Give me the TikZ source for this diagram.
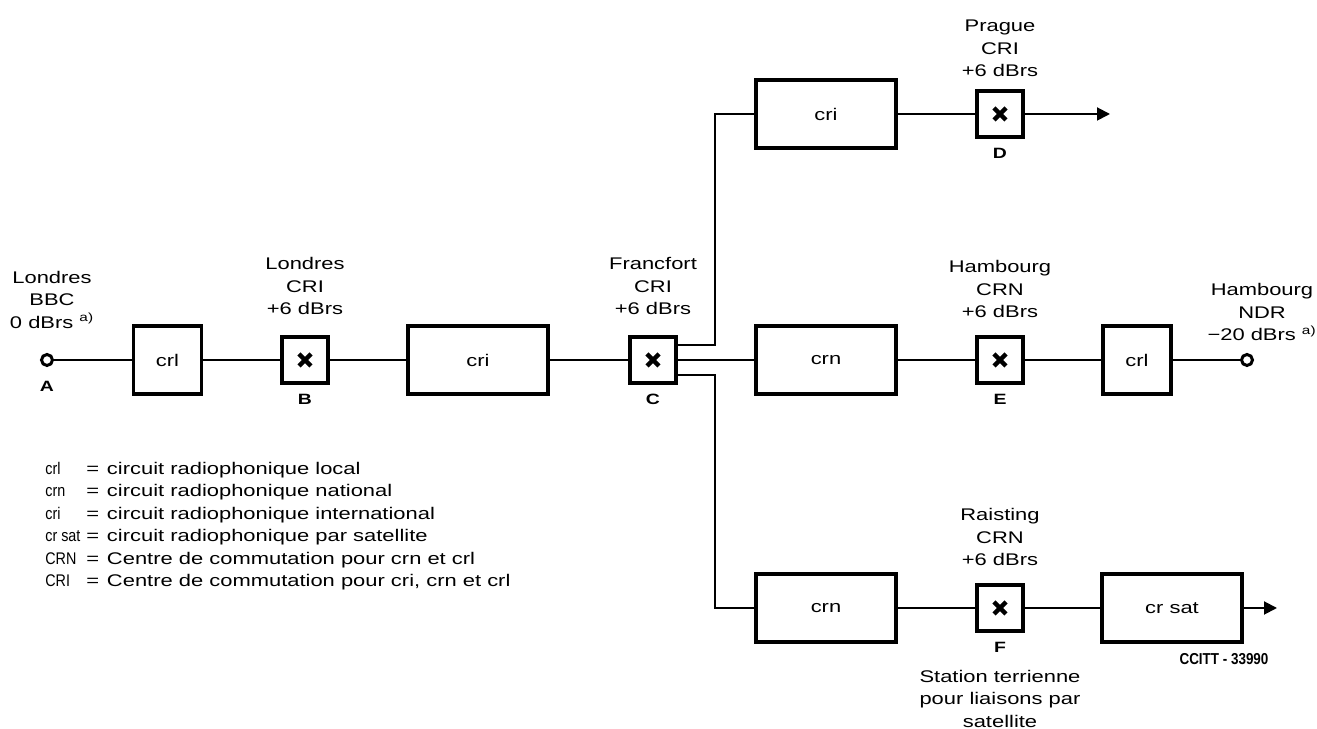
\documentclass[tikz,border=0pt]{standalone}
\usepackage{fontspec}
\setmainfont{Liberation Sans}[FakeStretch=1.3]
\newfontfamily\keyfont{Liberation Sans}[FakeStretch=0.85]
\usetikzlibrary{positioning,arrows.meta}

\tikzset{
  wire/.style={line width=1.1pt},
  circuit/.style={draw, line width=2.2pt, minimum width=2.8cm, minimum height=1.36cm},
  localbox/.style={circuit, minimum width=1.36cm},
  switchbox/.style={draw, line width=2.2pt, minimum size=0.92cm},
  terminal/.style={circle, draw, line width=1.7pt, minimum size=0.22cm, inner sep=0pt},
  place/.style={align=center, font=\fontsize{9.6}{12.8}\selectfont},
  letter/.style={font=\fontsize{8.5}{10}\selectfont\bfseries},
  tip/.style={-{Triangle[length=0.26cm,width=0.26cm]}},
}

\begin{document}
\begin{tikzpicture}[font=\fontsize{9.6}{12.8}\selectfont]
  \useasboundingbox (0,0) rectangle (26.34,14.58);

  % main row: Londres -> Francfort -> Hambourg
  \node[terminal] (A) at (0.94,7.38) {};
  \node[localbox] (crl1) at (3.35,7.38) {crl};
  \node[switchbox] (B) at (6.10,7.38) {};
  \node[circuit] (cri1) at (9.56,7.38) {cri};
  \node[switchbox] (C) at (13.06,7.38) {};
  \coordinate (jx) at (14.30,7.38);
  \node[circuit] (crn1) at (16.52,7.38) {crn};
  \node[switchbox] (E) at (20.0,7.38) {};
  \node[localbox] (crl2) at (22.74,7.38) {crl};
  \node[terminal] (H) at (24.94,7.38) {};

  % upper branch: Prague
  \node[circuit] (cri2) at (16.52,12.30) {cri};
  \node[switchbox] (D) at (20.0,12.30) {};
  \coordinate (endD) at (22.2,12.30);

  % lower branch: Raisting
  \node[circuit] (crn2) at (16.52,2.42) {crn};
  \node[switchbox] (F) at (20.0,2.42) {};
  \node[circuit] (crsat) at (23.44,2.42) {cr sat};
  \coordinate (endF) at (25.54,2.42);

  % crosses in the switching centres
  \foreach \s in {B,C,D,E,F}
    \draw[line width=2.6pt] ([shift={(-0.12,-0.12)}]\s.center) -- ([shift={(0.12,0.12)}]\s.center)
      ([shift={(-0.12,0.12)}]\s.center) -- ([shift={(0.12,-0.12)}]\s.center);

  % connections
  \draw[wire] (A) -- (crl1) -- (B) -- (cri1) -- (C) -- (crn1) -- (E) -- (crl2) -- (H);
  \draw[wire] ([yshift=0.3cm]C.east) -- ([yshift=0.3cm]jx) |- (cri2.west);
  \draw[wire] (cri2) -- (D);
  \draw[wire, tip] (D) -- (endD);
  \draw[wire] ([yshift=-0.3cm]C.east) -- ([yshift=-0.3cm]jx) |- (crn2.west);
  \draw[wire] (crn2) -- (F) -- (crsat);
  \draw[wire, tip] (crsat) -- (endF);

  % letters
  \node[letter, below=0.17cm of A] (lA) {A};
  \node[letter, below=0.06cm of B] (lB) {B};
  \node[letter, below=0.06cm of C] (lC) {C};
  \node[letter, below=0.06cm of D] (lD) {D};
  \node[letter, below=0.06cm of E] (lE) {E};
  \node[letter, below=0.06cm of F] (lF) {F};

  % place names
  \node[place, above=0.37cm of A, xshift=0.1cm] (tA) {Londres\\BBC\\0 dBrs \textsuperscript{a)}};
  \node[place, above=0.28cm of B] (tB) {Londres\\CRI\\+6 dBrs};
  \node[place, above=0.28cm of C] (tC) {Francfort\\CRI\\+6 dBrs};
  \node[place, above=0.12cm of D] (tD) {Prague\\CRI\\+6 dBrs};
  \node[place, above=0.22cm of E] (tE) {Hambourg\\CRN\\+6 dBrs};
  \node[place, above=0.22cm of F] (tF) {Raisting\\CRN\\+6 dBrs};
  \node[place, above=0.12cm of H, xshift=0.3cm] (tH) {Hambourg\\NDR\\−20 dBrs \textsuperscript{a)}};
  \node[place, below=0.1cm of lF] (station) {Station terrienne\\pour liaisons par\\satellite};
  \node[font=\keyfont\fontsize{9}{10}\selectfont\bfseries] (ref) at (24.48,1.40) {CCITT - 33990};

  % legend
  \node[anchor=north west, inner sep=0pt] (legend) at (0.9,5.42) {%
    \begin{tabular}{@{}p{23.3pt}@{}l@{\hspace{4.5pt}}l@{}}
      \keyfont crl    & = & circuit radiophonique local\\
      \keyfont crn    & = & circuit radiophonique national\\
      \keyfont cri    & = & circuit radiophonique international\\
      \keyfont cr sat & = & circuit radiophonique par satellite\\
      \keyfont CRN    & = & Centre de commutation pour crn et crl\\
      \keyfont CRI    & = & Centre de commutation pour cri, crn et crl
    \end{tabular}};
\end{tikzpicture}
\end{document}
